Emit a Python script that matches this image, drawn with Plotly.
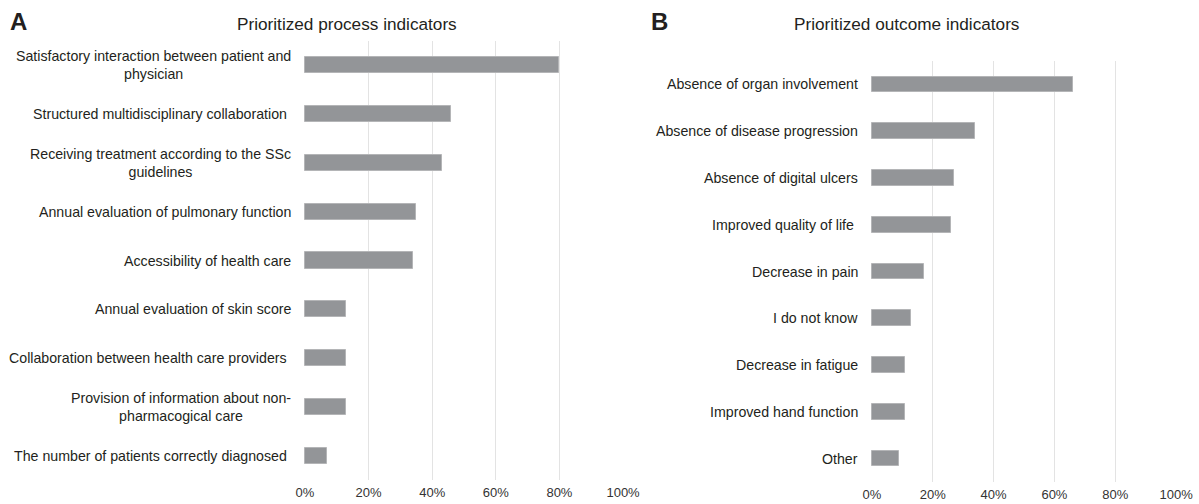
import plotly.graph_objects as go

W, H = 1199, 504

process_labels = [
    "Satisfactory interaction between patient and<br>physician",
    "Structured multidisciplinary collaboration\u00a0",
    "Receiving treatment according to the SSc<br>guidelines",
    "Annual evaluation of pulmonary function",
    "Accessibility of health care",
    "Annual evaluation of skin score",
    "Collaboration between health care providers\u00a0",
    "Provision of information about non-<br>pharmacogical care",
    "The number of patients correctly diagnosed\u00a0",
]
process_values = [80, 46, 43, 35, 34, 13, 13, 13, 7]

outcome_labels = [
    "Absence of organ involvement",
    "Absence of disease progression",
    "Absence of digital ulcers",
    "Improved quality of life\u00a0",
    "Decrease in pain",
    "I do not know",
    "Decrease in fatigue",
    "Improved hand function",
    "Other",
]
outcome_values = [66, 34, 27, 26, 17, 13, 11, 11, 9]

tick_vals = [0, 20, 40, 60, 80, 100]
tick_text = ["0%", "20%", "40%", "60%", "80%", "100%"]

panel_titles = ["Prioritized process indicators", "Prioritized outcome indicators"]
panel_letters = ["A", "B"]

BAR = "#939598"
BAR_LINE = "#b4b5b7"
GRID = "#e3e3e3"
TXT = "#231f20"
FONT = "Liberation Sans, Arial, sans-serif"


def px_x(p):
    return p / W


def px_y(p):
    return 1 - p / H


fig = go.Figure()

fig.add_trace(go.Bar(
    x=process_values, y=list(range(len(process_labels))), orientation="h",
    width=0.33, marker=dict(color=BAR, line=dict(color=BAR_LINE, width=1)),
    xaxis="x", yaxis="y", hoverinfo="x",
))
fig.add_trace(go.Bar(
    x=outcome_values, y=list(range(len(outcome_labels))), orientation="h",
    width=0.335, marker=dict(color=BAR, line=dict(color=BAR_LINE, width=1)),
    xaxis="x2", yaxis="y2", hoverinfo="x",
))

xcommon = dict(
    range=[-0.3, 100.3], tickvals=tick_vals, ticktext=tick_text,
    showgrid=True, gridcolor=GRID, gridwidth=1, zeroline=False,
    showline=False, ticks="", ticklabelstandoff=3, automargin=False,
    tickfont=dict(family=FONT, size=13, color="#333333"),
    fixedrange=True,
)
ycommon = dict(
    showticklabels=False, showgrid=False, zeroline=False, showline=False,
    ticks="", range=[8.5, -0.5], fixedrange=True, automargin=False,
)

fig.update_layout(
    width=W, height=H, autosize=False,
    margin=dict(l=0, r=0, t=0, b=0, pad=0),
    paper_bgcolor="white", plot_bgcolor="white",
    showlegend=False,
    bargap=0,
    xaxis=dict(domain=[px_x(304), px_x(624)], anchor="y", **xcommon),
    yaxis=dict(domain=[px_y(480), px_y(41)], anchor="x", **ycommon),
    xaxis2=dict(domain=[px_x(871), px_x(1177)], anchor="y2", **xcommon),
    yaxis2=dict(domain=[px_y(482), px_y(61)], anchor="x2", **ycommon),
    font=dict(family=FONT, color=TXT),
)

LABEL_SIZE = 14.2
annotations = []
for i, lab in enumerate(process_labels):
    annotations.append(dict(
        text=lab, x=0, y=i, xref="x domain", yref="y", xanchor="right",
        yanchor="middle", align="center", showarrow=False, xshift=-11,
        font=dict(family=FONT, size=LABEL_SIZE, color=TXT),
    ))
for i, lab in enumerate(outcome_labels):
    annotations.append(dict(
        text=lab, x=0, y=i, xref="x2 domain", yref="y2", xanchor="right",
        yanchor="middle", align="center", showarrow=False, xshift=-11,
        font=dict(family=FONT, size=LABEL_SIZE, color=TXT),
    ))

title_centers = [347, 906.5]
letter_x = [8, 649]
for k in range(2):
    annotations.append(dict(
        text=panel_titles[k], x=px_x(title_centers[k]), y=px_y(24),
        xref="paper", yref="paper", xanchor="center", yanchor="middle",
        showarrow=False, font=dict(family=FONT, size=17.2, color=TXT),
    ))
    annotations.append(dict(
        text="<b>" + panel_letters[k] + "</b>", x=px_x(letter_x[k]), y=px_y(22),
        xref="paper", yref="paper", xanchor="left", yanchor="middle",
        showarrow=False, font=dict(family=FONT, size=24, color=TXT),
    ))

fig.update_layout(annotations=annotations)

post = (
    "document.documentElement.style.margin='0';"
    "document.documentElement.style.overflow='hidden';"
    "document.body.style.margin='0';"
    "document.body.style.padding='0';"
    "document.body.style.overflow='hidden';"
)

fig.write_html("out.html", post_script=post,
               config={"displayModeBar": False, "responsive": False})
